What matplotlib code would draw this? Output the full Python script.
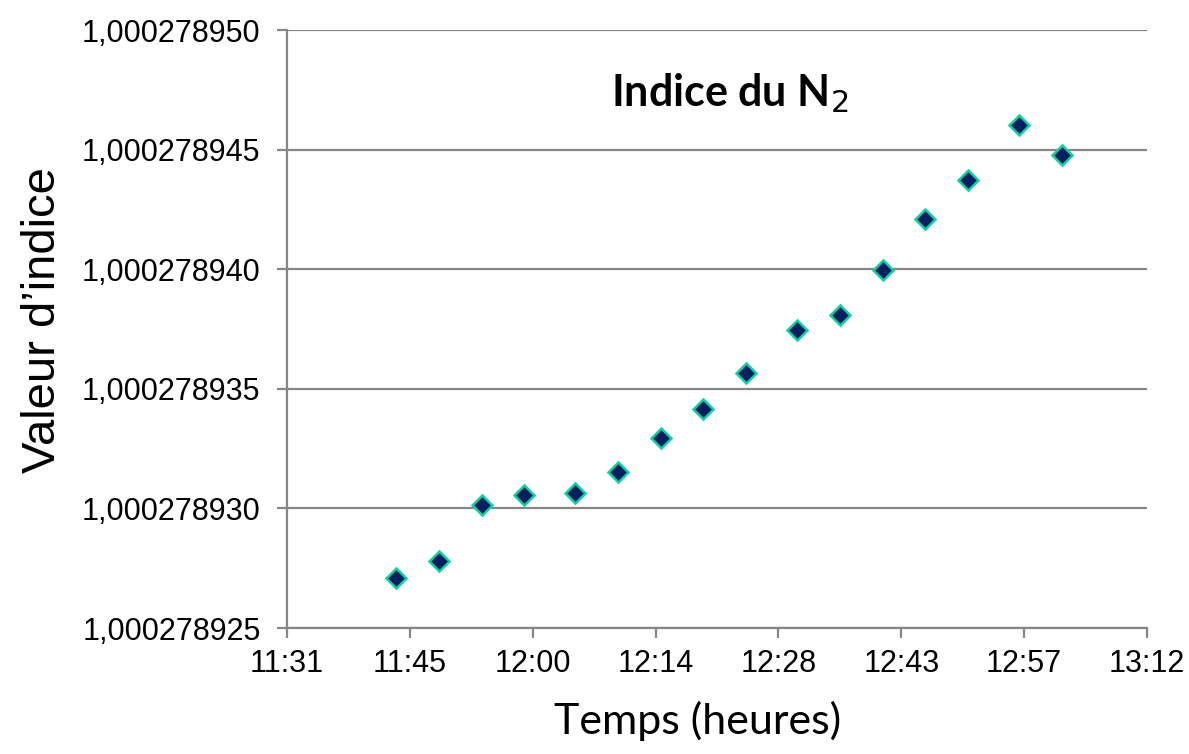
import matplotlib.pyplot as plt
from matplotlib.ticker import FuncFormatter

# Heures de mesure et indice de réfraction mesuré
heures = ["11:44", "11:49", "11:54", "11:59", "12:05", "12:10", "12:15", "12:20",
          "12:25", "12:31", "12:36", "12:41", "12:46", "12:51", "12:57", "13:02"]
indice = [1.00027892709, 1.00027892780, 1.00027893014, 1.00027893056,
          1.00027893064, 1.00027893152, 1.00027893294, 1.00027893416,
          1.00027893566, 1.00027893746, 1.00027893809, 1.00027893997,
          1.00027894210, 1.00027894373, 1.00027894603, 1.00027894477]

# Graduations de l'axe des temps (fractions de jour, comme dans un tableur)
x_ticks = [0.48, 0.49, 0.50, 0.51, 0.52, 0.53, 0.54, 0.55]
x_labels = ["11:31", "11:45", "12:00", "12:14", "12:28", "12:43", "12:57", "13:12"]
y_ticks = [1.000278925, 1.000278930, 1.000278935, 1.000278940, 1.000278945, 1.000278950]


def en_jour(h):
    hh, mm = h.split(":")
    return (int(hh) * 60 + int(mm)) / 1440.0


t = [en_jour(h) for h in heures]

fig = plt.figure(figsize=(11.89, 7.54), dpi=100)
ax = fig.add_axes([287 / 1189, 1 - 628 / 754, (1147 - 287) / 1189, (628 - 30) / 754])

gris = "#868686"
ax.plot(t, indice, linestyle="none", marker="D", markersize=10.5,
        markerfacecolor="#061f5e", markeredgecolor="#10d0a0", markeredgewidth=1.8,
        zorder=3)

ax.set_xlim(x_ticks[0], x_ticks[-1])
ax.set_ylim(y_ticks[0], y_ticks[-1])
ax.set_xticks(x_ticks)
ax.set_xticklabels(x_labels)
ax.set_yticks(y_ticks)
ax.yaxis.set_major_formatter(FuncFormatter(lambda v, p: f"{v:.9f}".replace(".", ",")))

ax.grid(True, axis="y", color=gris, linewidth=1.6)
ax.set_axisbelow(True)
for s in ["top", "right"]:
    ax.spines[s].set_visible(False)
for s in ["left", "bottom"]:
    ax.spines[s].set_color(gris)
    ax.spines[s].set_linewidth(1.6)

ax.tick_params(axis="both", direction="out", length=7, width=1.6, color=gris,
               labelsize=22)
ax.tick_params(axis="y", pad=12)
ax.tick_params(axis="x", pad=8)
for lab in ax.get_xticklabels() + ax.get_yticklabels():
    lab.set_family("Liberation Sans")

ax.set_ylabel("Valeur d’indice", family="Liberation Sans", fontsize=34, labelpad=12)
ax.yaxis.label.set_y(0.515)
ax.set_xlabel("Temps (heures)", family="Lato", fontsize=31, labelpad=16)
ax.xaxis.label.set_x(0.477)
ax.text(0.515, 0.895, "Indice du N$_2$", transform=ax.transAxes, ha="center",
        va="center", family="Lato", fontweight="bold", fontsize=31)

fig.savefig("out.png", dpi=100)
